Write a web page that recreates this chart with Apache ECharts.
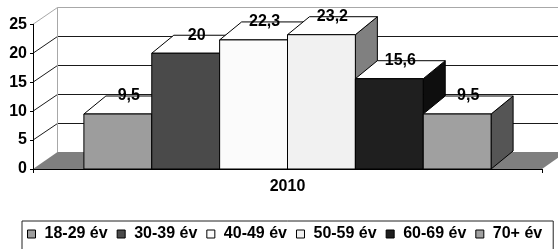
<!DOCTYPE html>
<html>
<head>
<meta charset="utf-8">
<script src="https://cdn.jsdelivr.net/npm/echarts@6/dist/echarts.min.js"></script>
<style>
html,body{margin:0;padding:0;background:#fff;}
#chart{width:558px;height:249px;}
</style>
</head>
<body>
<div id="chart"></div>
<script>
// ---- data ----
const categories = ['2010'];
const seriesNames = ['18-29 év', '30-39 év', '40-49 év', '50-59 év', '60-69 év', '70+ év'];
const values = [9.5, 20, 22.3, 23.2, 15.6, 9.5];
const yTicks = [0, 5, 10, 15, 20, 25];

// ---- styles ----
const frontColors = ['#9d9d9d', '#4a4a4a', '#fbfbfb', '#f1f1f1', '#1f1f1f', '#a0a0a0'];
const sideColors = ['#6a6a6a', '#2a2a2a', '#9a9a9a', '#808080', '#0e0e0e', '#555555'];
const FONT = '"Liberation Sans", Arial, sans-serif';
const BAR_DX = 22, BAR_DY = -18;   // bar depth offset
const WALL_DX = 24, WALL_DY = -17; // wall depth offset
const BAR_FRACTION = 0.8;
const yMax = yTicks[yTicks.length - 1];

const chart = echarts.init(document.getElementById('chart'), null, {renderer: 'canvas'});

function barGeom(params, api, idx, v) {
  const base = api.coord([0, 0]);
  const top = api.coord([0, v]);
  const bw = api.size([1, 0])[0] * BAR_FRACTION / seriesNames.length;
  const x0 = base[0] - bw * seriesNames.length / 2 + idx * bw;
  return {x0: x0, x1: x0 + bw, yb: base[1], yt: top[1], bw: bw};
}

function crisp(v) { return Math.round(v - 0.5) + 0.5; }

const wallSeries = {
  type: 'custom',
  name: 'walls',
  z: 1,
  silent: true,
  clip: false,
  data: [[0, 0]],
  renderItem: function (params, api) {
    const cs = params.coordSys;
    const L = cs.x, R = cs.x + cs.width;
    const y0 = api.coord([0, 0])[1];
    const yT = api.coord([0, yMax])[1];
    const BX = crisp(L + WALL_DX);
    const ch = [];
    ch.push({type: 'polygon', shape: {points: [[BX, yT + WALL_DY], [R + WALL_DX, yT + WALL_DY], [R + WALL_DX, y0 + WALL_DY], [BX, y0 + WALL_DY]]}, style: {fill: '#ffffff'}});
    ch.push({type: 'polygon', shape: {points: [[L, yT], [BX, yT + WALL_DY], [BX, y0 + WALL_DY], [L, y0]]}, style: {fill: '#ffffff'}});
    ch.push({type: 'polygon', shape: {points: [[L, y0], [R, y0], [R + WALL_DX, y0 + WALL_DY], [BX, y0 + WALL_DY]]}, style: {fill: '#7f7f7f'}});
    yTicks.forEach(function (t) {
      if (t === 0) return;
      const y = api.coord([0, t])[1];
      const yb = crisp(y + WALL_DY);
      const isTop = t === yMax;
      ch.push({type: 'polyline', shape: {points: [[L, y], [BX, yb], [R + WALL_DX, yb]]},
        style: {fill: null, stroke: isTop ? '#a8a8a8' : '#1a1a1a', lineWidth: 1}});
    });
    ch.push({type: 'line', shape: {x1: BX, y1: crisp(yT + WALL_DY), x2: BX, y2: y0 + WALL_DY}, style: {stroke: '#a8a8a8', lineWidth: 1}});
    return {type: 'group', children: ch};
  }
};

const barSeries = seriesNames.map(function (name, idx) {
  return {
    type: 'custom',
    name: name,
    z: 2,
    clip: false,
    itemStyle: {color: frontColors[idx], borderColor: '#000', borderWidth: 1},
    data: [[0, values[idx]]],
    renderItem: function (params, api) {
      const g = barGeom(params, api, idx, api.value(1));
      const st = {stroke: '#000', lineWidth: 1, lineJoin: 'round'};
      return {type: 'group', children: [
        {type: 'polygon', shape: {points: [[g.x1, g.yb], [g.x1 + BAR_DX, g.yb + BAR_DY], [g.x1 + BAR_DX, g.yt + BAR_DY], [g.x1, g.yt]]},
          style: Object.assign({fill: sideColors[idx]}, st)},
        {type: 'polygon', shape: {points: [[g.x0, g.yt], [g.x1, g.yt], [g.x1 + BAR_DX, g.yt + BAR_DY], [g.x0 + BAR_DX, g.yt + BAR_DY]]},
          style: Object.assign({fill: '#ffffff'}, st)},
        {type: 'polygon', shape: {points: [[g.x0, g.yb], [g.x1, g.yb], [g.x1, g.yt], [g.x0, g.yt]]},
          style: Object.assign({fill: frontColors[idx]}, st)}
      ]};
    }
  };
});

const labelSeries = {
  type: 'custom',
  name: 'labels',
  z: 10,
  silent: true,
  clip: false,
  encode: {y: 1},
  data: values.map(function (v, i) { return [i, v]; }),
  renderItem: function (params, api) {
    const idx = api.value(0);
    const v = api.value(1);
    const g = barGeom(params, api, idx, v);
    return {type: 'text', x: g.x0 + g.bw / 2 + BAR_DX / 2, y: g.yt + BAR_DY,
      style: {text: String(v).replace('.', ','), align: 'center', verticalAlign: 'middle',
        font: 'bold 16px ' + FONT, fill: '#000'}};
  }
};

const option = {
  animation: false,
  backgroundColor: '#ffffff',
  grid: {left: 33, right: 16, top: 24.3, bottom: 80, containLabel: false},
  xAxis: {
    type: 'category',
    data: categories,
    z: 5,
    axisLine: {show: true, lineStyle: {color: '#000', width: 1}},
    axisTick: {show: true, length: 4, lineStyle: {color: '#000'}},
    axisLabel: {fontSize: 16, fontWeight: 'bold', fontFamily: FONT, color: '#000', margin: 10},
    splitLine: {show: false}
  },
  yAxis: {
    type: 'value',
    min: yTicks[0],
    max: yMax,
    interval: 5,
    z: 5,
    axisLine: {show: true, lineStyle: {color: '#000', width: 1}},
    axisTick: {show: true, length: 3, lineStyle: {color: '#000'}},
    axisLabel: {fontSize: 16, fontWeight: 'bold', fontFamily: FONT, color: '#000', margin: 6},
    splitLine: {show: false}
  },
  legend: {
    data: seriesNames,
    left: 22,
    top: 221,
    orient: 'horizontal',
    padding: [5, 11, 20, 5],
    itemWidth: 8,
    itemHeight: 8,
    itemGap: 9,
    icon: 'rect',
    borderColor: '#222',
    borderWidth: 1,
    selectedMode: false,
    itemStyle: {borderColor: '#000', borderWidth: 1},
    textStyle: {fontSize: 16, fontWeight: 'bold', fontFamily: FONT, color: '#000', padding: [0, 0, 0, 4]}
  },
  series: [wallSeries].concat(barSeries, [labelSeries])
};

chart.setOption(option);
</script>
</body>
</html>
